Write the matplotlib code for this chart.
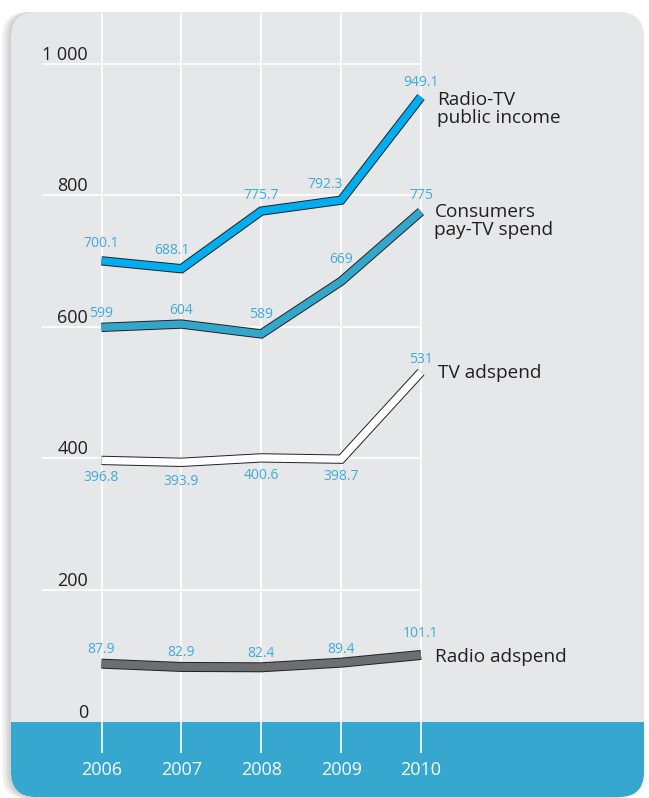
import matplotlib
matplotlib.use("Agg")
import matplotlib.pyplot as plt
from matplotlib.patches import FancyBboxPatch, Rectangle
import matplotlib.patheffects as pe
import matplotlib.transforms as mtransforms

# ---------------- data ----------------
years = [2006, 2007, 2008, 2009, 2010]
radio_tv_public_income = [700.1, 688.1, 775.7, 792.3, 949.1]
consumers_paytv_spend = [599, 604, 589, 669, 775]
tv_adspend = [396.8, 393.9, 400.6, 398.7, 531]
radio_adspend = [87.9, 82.9, 82.4, 89.4, 101.1]
series_names = ["Radio-TV\npublic income", "Consumers\npay-TV spend",
                "TV adspend", "Radio adspend"]
y_ticks = [0, 200, 400, 600, 800, 1000]
y_tick_labels = ["0", "200", "400", "600", "800", "1 000"]
year_labels = ["2006", "2007", "2008", "2009", "2010"]

# ---------------- style ----------------
FONT = ["Open Sans", "DejaVu Sans"]
plt.rcParams["font.family"] = FONT
TEXT = "#231f20"
LABEL_BLUE = "#3fabd8"
PANEL = "#e6e7e8"
BAND = "#36a7cf"
colors = ["#00adef", "#33a6cc", "#ffffff", "#6d6e71"]
line_widths = [5.3, 5.3, 5.3, 5.8]

W, H = 649, 798
fig = plt.figure(figsize=(W / 100, H / 100), dpi=100)
fig.patch.set_facecolor("white")
pix = mtransforms.IdentityTransform()

# panel with soft shadow
PX, PY, PW, PH = 11, 1, 633, 785
for off in [9, 7, 5, 3.5, 2]:
    sh = FancyBboxPatch((PX - off, PY - off * 0.2), PW, PH + off * 0.2,
                        boxstyle="round,pad=0,rounding_size=25",
                        transform=pix, facecolor="#6d6e71", edgecolor="none",
                        alpha=0.07, zorder=-3)
    fig.patches.append(sh)
panel = FancyBboxPatch((PX, PY), PW, PH, boxstyle="round,pad=0,rounding_size=25",
                       transform=pix, facecolor=PANEL, edgecolor="none", zorder=-2)
fig.patches.append(panel)
band = Rectangle((PX, PY), PW, H - 722 - PY, transform=pix, facecolor=BAND,
                 edgecolor="none", zorder=-1)
band.set_clip_path(panel)
fig.patches.append(band)

# axes: value 0 at py 721.5, 1000 at py 63.5 ; 2006 at px 101.5, 2010 at px 421
x0, x1 = 101.5, 421.0
yb, yt = H - 721.5, H - 63.5
ax = fig.add_axes([x0 / W, yb / H, (x1 - x0) / W, (yt - yb) / H])
ax.set_zorder(1)
ax.set_xlim(2006, 2010)
ax.set_ylim(0, 1000)
ax.set_facecolor("none")
for s in ax.spines.values():
    s.set_visible(False)

xpx = (x1 - x0) / 4.0
ypx = (yt - yb) / 1000.0


def v_of_py(py):
    return ((H - py) - yb) / ypx


def yr_of_px(px):
    return 2006 + (px - x0) / xpx


# gridlines
ax.vlines(years, v_of_py(753), v_of_py(13), colors="white", linewidth=1.2,
          clip_on=False, zorder=1)
ax.hlines(y_ticks[1:], yr_of_px(42), 2010, colors="white", linewidth=1.2,
          clip_on=False, zorder=1)

# ticks
ax.set_yticks(y_ticks)
ax.set_yticklabels(y_tick_labels, va="bottom", color=TEXT, fontsize=13)
ax.set_xticks(years)
ax.set_xticklabels(year_labels, color="white", fontsize=13, va="top")
ax.tick_params(axis="y", length=0, pad=9.7)
ax.tick_params(axis="x", length=0, pad=28.5)

# lines
all_series = [radio_tv_public_income, consumers_paytv_spend, tv_adspend, radio_adspend]
for vals, c, lw in zip(all_series, colors, line_widths):
    ax.plot(years, vals, color=c, linewidth=lw, solid_capstyle="butt",
            solid_joinstyle="miter", clip_on=False, zorder=5,
            path_effects=[pe.Stroke(linewidth=lw + 1.4, foreground=TEXT),
                          pe.Normal()])

# value labels (pixel offsets)
label_dx = [[0, -9, 0, -16, 0], [0, 0, 0, 0, 0], [0, 0, 0, 0, 0], [0, 0, 0, 0, 0]]
label_dy = [[17, 18, 16, 16, 14], [14, 14, 19, 22, 16],
            [-17, -19, -18, -17, 13], [14, 14, 14, 13, 21]]
for si, vals in enumerate(all_series):
    for i, (yr, v) in enumerate(zip(years, vals)):
        tr = mtransforms.offset_copy(ax.transData, fig=fig, x=label_dx[si][i],
                                     y=label_dy[si][i], units="dots")
        txt = f"{v:g}"
        ax.text(yr, v, txt, transform=tr, ha="center", va="center",
                fontsize=10, color=LABEL_BLUE, zorder=6, clip_on=False)

# series names
name_pos = [(437, 108.7), (434.5, 221), (437.5, 373.3), (435, 657)]
for name, (px, py) in zip(series_names, name_pos):
    ax.text(yr_of_px(px), v_of_py(py), name, ha="left", va="center",
            fontsize=13.7, color=TEXT, linespacing=1.0, clip_on=False, zorder=6)

fig.savefig("out.png", dpi=100)
